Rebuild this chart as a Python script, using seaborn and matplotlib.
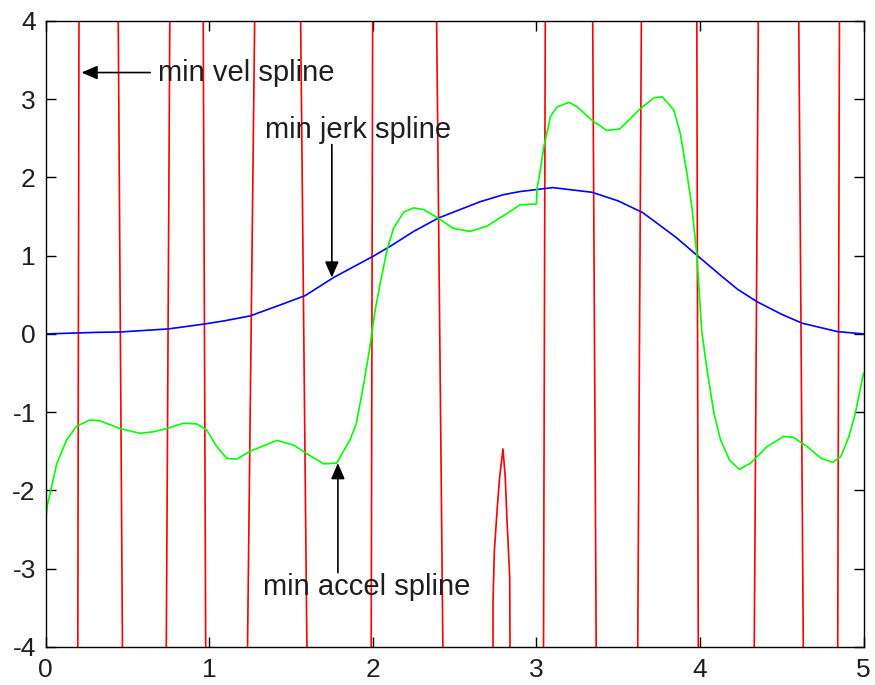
import matplotlib
matplotlib.use("Agg")
import matplotlib.pyplot as plt
import seaborn as sns

# ---- data ----
# min vel spline: wildly oscillating, mostly outside the visible range
red_x = [0.0, 0.197, 0.205, 0.443, 0.472, 0.737, 0.761, 0.963, 0.980, 1.232, 1.281,
         1.557, 1.600, 1.990, 2.000, 2.388, 2.431,
         2.735, 2.735, 2.743, 2.760, 2.775, 2.796, 2.810, 2.820, 2.837, 2.840,
         3.043, 3.055, 3.343, 3.367, 3.618, 3.643, 3.980, 3.990, 4.330, 4.358,
         4.602, 4.633, 4.841, 4.853, 5.0]
red_y = [-4.5, -4.5, 4.5, 4.5, -4.5, -4.5, 4.5, 4.5, -4.5, -4.5, 4.5,
         4.5, -4.5, -4.5, 4.5, 4.5, -4.5,
         -4.5, -3.42, -2.78, -2.25, -1.84, -1.47, -1.84, -2.36, -3.10, -4.5,
         -4.5, 4.5, 4.5, -4.5, -4.5, 4.5, 4.5, -4.5, -4.5, 4.5,
         4.5, -4.5, -4.5, 4.5, 4.5]

# min jerk spline
blue_x = [0.0, 0.31, 0.456, 0.75, 0.976, 1.10, 1.25, 1.434, 1.587, 1.76, 2.0, 2.107,
          2.25, 2.40, 2.657, 2.80, 2.902, 3.10, 3.34, 3.50, 3.65, 3.85, 3.99, 4.125,
          4.23, 4.35, 4.50, 4.625, 4.84, 5.0]
blue_y = [0.0, 0.02, 0.025, 0.064, 0.128, 0.17, 0.23, 0.37, 0.49, 0.72, 0.99, 1.12,
          1.31, 1.48, 1.69, 1.78, 1.82, 1.87, 1.81, 1.70, 1.55, 1.24, 0.99, 0.75,
          0.57, 0.41, 0.25, 0.137, 0.03, 0.0]

# min accel spline
green_x = [0.0, 0.01, 0.07, 0.13, 0.19, 0.27, 0.333, 0.456, 0.578, 0.66, 0.74, 0.843,
           0.925, 0.986, 1.047, 1.108, 1.17, 1.25, 1.414, 1.516, 1.597, 1.70, 1.78,
           1.862, 1.90, 1.944, 1.98, 2.015, 2.046, 2.087, 2.127, 2.19, 2.25, 2.31,
           2.40, 2.49, 2.596, 2.70, 2.82, 2.90, 3.0, 3.004, 3.025, 3.045, 3.065,
           3.086, 3.127, 3.20, 3.25, 3.34, 3.43, 3.51, 3.636, 3.72, 3.77, 3.84,
           3.88, 3.92, 3.95, 3.98, 4.01, 4.04, 4.085, 4.125, 4.18, 4.24, 4.31,
           4.41, 4.51, 4.57, 4.655, 4.74, 4.81, 4.86, 4.91, 4.95, 4.99, 5.0]
green_y = [-2.42, -2.2, -1.65, -1.35, -1.18, -1.10, -1.11, -1.21, -1.27, -1.25, -1.21, -1.14,
           -1.15, -1.23, -1.44, -1.59, -1.60, -1.50, -1.36, -1.42, -1.53, -1.66, -1.65,
           -1.35, -1.14, -0.65, -0.20, 0.31, 0.65, 1.07, 1.35, 1.56, 1.61, 1.59,
           1.48, 1.35, 1.31, 1.38, 1.54, 1.65, 1.66, 1.86, 2.10, 2.39, 2.57,
           2.78, 2.90, 2.96, 2.90, 2.73, 2.60, 2.62, 2.88, 3.02, 3.03, 2.86,
           2.56, 2.05, 1.63, 1.03, 0.05, -0.42, -1.01, -1.35, -1.61, -1.73, -1.65,
           -1.44, -1.31, -1.32, -1.44, -1.59, -1.64, -1.57, -1.31, -1.01, -0.59, -0.50]

x_ticks = [0, 1, 2, 3, 4, 5]
y_ticks = [-4, -3, -2, -1, 0, 1, 2, 3, 4]

labels = ["min vel spline", "min jerk spline", "min accel spline"]

# ---- style ----
sns.set_style("ticks")
plt.rcParams['font.family'] = ['Liberation Sans', 'DejaVu Sans']

fig = plt.figure(figsize=(8.75, 6.85), dpi=100)
ax = fig.add_axes([0.052, 0.0555, 0.935, 0.914])

lw = 1.2
sns.lineplot(x=red_x, y=red_y, sort=False, estimator=None, color="#ff0000", lw=lw, ax=ax)
sns.lineplot(x=blue_x, y=blue_y, sort=False, estimator=None, color="#0000ff", lw=lw, ax=ax)
sns.lineplot(x=green_x, y=green_y, sort=False, estimator=None, color="#00ff00", lw=lw, ax=ax)

ax.set_xlim(0, 5)
ax.set_ylim(-4, 4)
ax.set_xticks(x_ticks)
ax.set_yticks(y_ticks)
ax.set_xticklabels([str(t) for t in x_ticks])
ax.set_yticklabels([str(t) for t in y_ticks])
ax.tick_params(direction="in", length=7, width=1, top=True, right=True,
               labelsize=19, colors="black", labelcolor="#1e1e1e")
ax.tick_params(axis="x", pad=8)
ax.tick_params(axis="y", pad=7)
for s in ax.spines.values():
    s.set_visible(True)
    s.set_linewidth(1.0)
    s.set_color("black")
ax.grid(False)

arrow = dict(arrowstyle="-|>,head_length=0.6,head_width=0.26", color="black", lw=1.2,
             mutation_scale=16, shrinkA=0, shrinkB=0)
txt_kw = dict(fontsize=21, color="#1e1e1e")

ax.annotate("", xy=(0.22, 3.34), xytext=(0.64, 3.34), arrowprops=arrow)
ax.text(0.685, 3.34, labels[0], va="center", ha="left", **txt_kw)

ax.annotate("", xy=(1.75, 0.72), xytext=(1.75, 2.42), arrowprops=arrow)
ax.text(1.34, 2.61, labels[1], va="center", ha="left", **txt_kw)

ax.annotate("", xy=(1.787, -1.65), xytext=(1.787, -3.05), arrowprops=arrow)
ax.text(1.33, -3.23, labels[2], va="center", ha="left", **txt_kw)

ax.set_xlabel("")
ax.set_ylabel("")

fig.savefig("out.png", dpi=100)
